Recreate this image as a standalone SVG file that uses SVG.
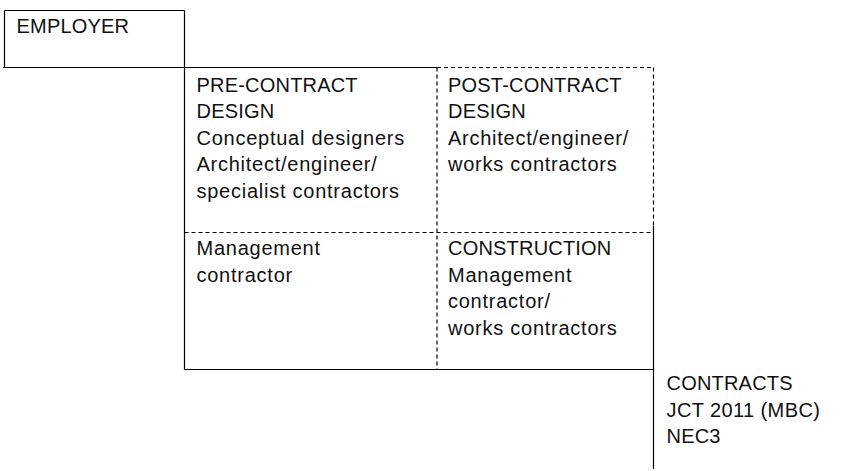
<svg xmlns="http://www.w3.org/2000/svg" width="858" height="471" viewBox="0 0 858 471">
<style>
  .t { font-family: "Liberation Sans", Arial, Helvetica, sans-serif; font-size: 20px; letter-spacing: 0.2px; fill: #111; }
  .l { letter-spacing: 0.75px; }
  .m { letter-spacing: 0.4px; }
  .s { stroke: #000; stroke-width: 1.2; fill: none; }
  .d { stroke: #000; stroke-width: 1.2; fill: none; stroke-dasharray: 4 3; }
</style>
<rect x="0" y="0" width="858" height="471" fill="#fff"/>
<g id="connectors">
  <line class="s" x1="4.5" y1="10.5" x2="184.5" y2="10.5"/>
  <line class="s" x1="4.5" y1="10.5" x2="4.5" y2="67.5"/>
  <line class="s" x1="184.5" y1="10.5" x2="184.5" y2="369.5"/>
  <line class="s" x1="3" y1="67.5" x2="437" y2="67.5"/>
  <line class="d" x1="437" y1="67.5" x2="653.5" y2="67.5"/>
  <line class="d" x1="437" y1="67.5" x2="437" y2="369.5"/>
  <line class="d" x1="184.5" y1="232.5" x2="653" y2="232.5"/>
  <line class="d" x1="653.5" y1="67.5" x2="653.5" y2="226"/>
  <line class="s" x1="653.5" y1="226" x2="653.5" y2="469"/>
  <line class="s" x1="184.5" y1="369.5" x2="653.5" y2="369.5"/>
</g>
<g id="employer">
  <text class="t" x="16.5" y="33">EMPLOYER</text>
</g>
<g id="pre-contract-design">
  <text class="t" x="196.5" y="91.5">PRE-CONTRACT</text>
  <text class="t" x="196.5" y="118">DESIGN</text>
  <text class="t l" x="196.5" y="144.5">Conceptual designers</text>
  <text class="t l" x="196.5" y="171">Architect/engineer/</text>
  <text class="t l" x="196.5" y="197.5">specialist contractors</text>
</g>
<g id="post-contract-design">
  <text class="t" x="448" y="91.5">POST-CONTRACT</text>
  <text class="t" x="448" y="118">DESIGN</text>
  <text class="t l" x="448" y="144.5">Architect/engineer/</text>
  <text class="t l" x="448" y="171">works contractors</text>
</g>
<g id="management-contractor">
  <text class="t l" x="196.5" y="255">Management</text>
  <text class="t l" x="196.5" y="281.5">contractor</text>
</g>
<g id="construction">
  <text class="t" x="448" y="255">CONSTRUCTION</text>
  <text class="t l" x="448" y="281.5">Management</text>
  <text class="t l" x="448" y="308">contractor/</text>
  <text class="t l" x="448" y="334.5">works contractors</text>
</g>
<g id="contracts">
  <text class="t" x="666.5" y="390">CONTRACTS</text>
  <text class="t m" x="666.5" y="416.5">JCT 2011 (MBC)</text>
  <text class="t" x="666.5" y="443">NEC3</text>
</g>
</svg>
